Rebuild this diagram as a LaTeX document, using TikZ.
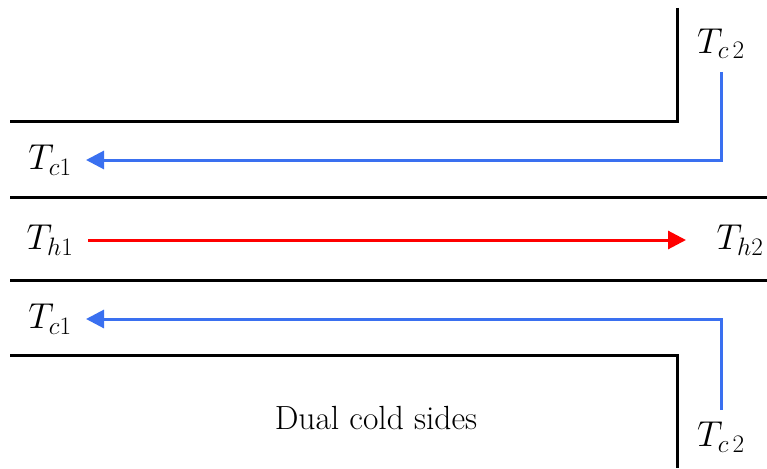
\RequirePackage{fix-cm}
\documentclass[tikz,border=0pt]{standalone}
\usepackage[no-math]{fontspec}
\usetikzlibrary{arrows.meta}
\definecolor{coldblue}{RGB}{58,112,240}
\definecolor{hotred}{RGB}{255,0,0}
\tikzset{
  wall/.style={line width=3pt, black},
  coldflow/.style={line width=3pt, coldblue, -{Triangle[length=18pt,width=18pt]}},
  hotflow/.style={line width=3pt, hotred, -{Triangle[length=18pt,width=18pt]}},
  temp/.style={font=\fontsize{36}{38}\selectfont, inner sep=0pt},
}
\begin{document}
\begin{tikzpicture}[x=1pt,y=-1pt]
\useasboundingbox (0,0) rectangle (767,468);
% walls
\coordinate (wt1) at (677,8);
\coordinate (wt2) at (677,121);
\coordinate (wt3) at (10,121);
\draw[wall] (wt1) -- (wt2) -- (wt3);
\coordinate (m1a) at (10,197);
\coordinate (m1b) at (767,197);
\draw[wall] (m1a) -- (m1b);
\coordinate (m2a) at (10,280);
\coordinate (m2b) at (767,280);
\draw[wall] (m2a) -- (m2b);
\coordinate (wb1) at (10,355);
\coordinate (wb2) at (677,355);
\coordinate (wb3) at (677,468);
\draw[wall] (wb1) -- (wb2) -- (wb3);
% labels
\node[temp] (tc1a) at (50,160) {$T_{c1}$};
\node[temp] (th1) at (50,240) {$T_{h1}$};
\node[temp] (tc1b) at (50,319) {$T_{c1}$};
\node[temp] (tc2a) at (721,44) {$T_{c\,2}$};
\node[temp] (th2) at (740,240) {$T_{h2}$};
\node[temp] (tc2b) at (721,437) {$T_{c\,2}$};
\node[font=\rmfamily\fontsize{33.5}{36}\selectfont, inner sep=0pt] (cap) at (376,418) {Dual cold sides};
% flows
\coordinate (ca0) at (721,72);
\coordinate (ca1) at (721,160);
\coordinate (ca2) at (86,160);
\draw[coldflow] (ca0) -- (ca1) -- (ca2);
\coordinate (h0) at (88,240);
\coordinate (h1) at (686,240);
\draw[hotflow] (h0) -- (h1);
\coordinate (cb0) at (721,410);
\coordinate (cb1) at (721,319);
\coordinate (cb2) at (86,319);
\draw[coldflow] (cb0) -- (cb1) -- (cb2);
\end{tikzpicture}
\end{document}
